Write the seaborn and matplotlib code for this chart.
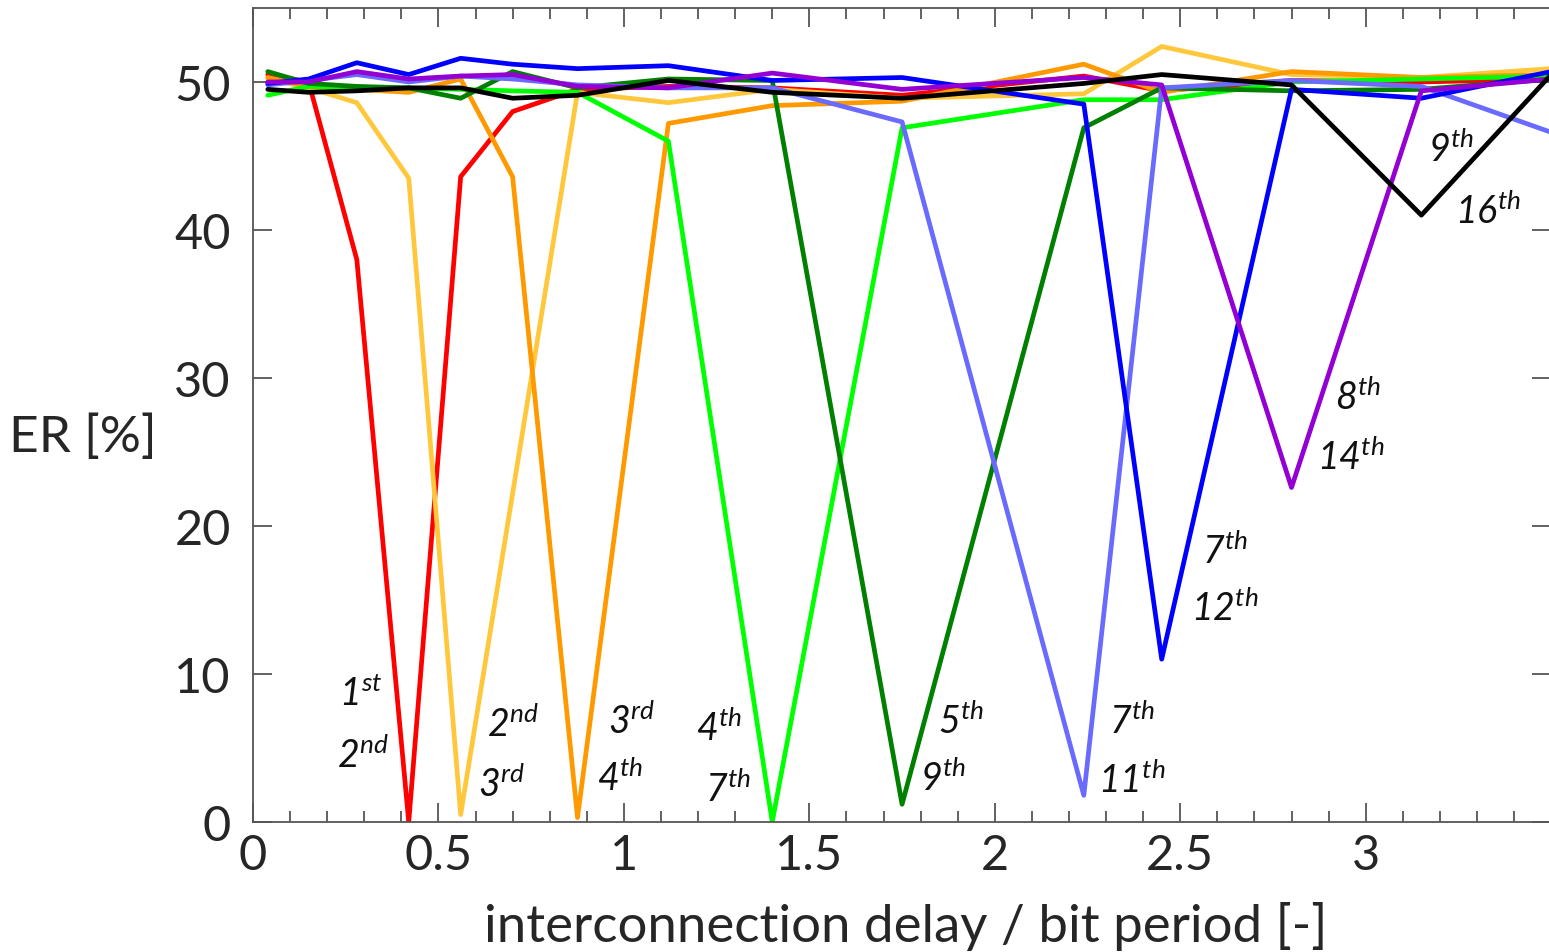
import numpy as np
import pandas as pd
import matplotlib
matplotlib.use("Agg")
import matplotlib.pyplot as plt
from matplotlib.ticker import MultipleLocator
import seaborn as sns

# interconnection delay normalised to the bit period
delay = [0.04, 0.15, 0.28, 0.42, 0.56, 0.70, 0.875, 1.12, 1.40, 1.75, 2.24, 2.45, 2.80, 3.15, 3.50]

# error rate [%] per configuration (None = not measured at that delay)
er_red       = [50.5, 50.0, 38.0,  0.0, 43.6, 48.0, 49.5, 49.7, 49.6, 49.1, 50.4, 49.4, 50.1, 50.0, 50.2]
er_yellow    = [50.2, 49.6, 48.6, 43.5,  0.5, None, 49.3, 48.6, 49.5, 48.9, 49.2, 52.4, 50.5, 50.3, 50.9]
er_orange    = [50.3, 49.7, 49.5, 49.3, 50.2, 43.6,  0.3, 47.2, 48.4, 48.7, 51.2, 49.3, 50.7, 50.3, 50.5]
er_lime      = [49.1, 49.7, 49.6, 49.6, 49.5, 49.4, 49.3, 46.0,  0.0, 46.9, 48.8, 48.8, 50.0, 50.2, 50.4]
er_darkgreen = [50.7, 49.9, 49.7, 49.6, 48.9, 50.7, 49.6, 50.2, 50.1,  1.2, 46.9, 49.6, 49.4, 49.5, 50.2]
er_lightblue = [49.8, 50.1, 50.5, 50.0, 50.4, 50.2, 49.8, 49.6, 49.6, 47.3,  1.8, 49.6, 50.1, 49.7, 46.6]
er_blue      = [49.9, 50.2, 51.3, 50.5, 51.6, 51.2, 50.9, 51.1, 50.1, 50.3, 48.5, 11.0, 49.5, 48.9, 50.7]
er_purple    = [50.0, 50.0, 50.7, 50.2, 50.4, 50.5, 49.7, 49.6, 50.6, 49.5, 50.3, 49.8, 22.6, 49.4, 50.2]
er_black     = [49.5, 49.3, 49.4, 49.6, 49.6, 48.9, 49.1, 50.1, 49.3, 48.9, 49.9, 50.5, 49.8, 41.0, 50.5]

series_names = ["red", "yellow", "orange", "lime", "darkgreen", "lightblue", "blue", "purple", "black"]
series_values = [er_red, er_yellow, er_orange, er_lime, er_darkgreen, er_lightblue, er_blue, er_purple, er_black]
series_colors = ["#ff0000", "#ffc83c", "#ff9900", "#00ff00", "#008000", "#6a6aff", "#0000ff", "#9400d3", "#000000"]

# harmonic labels next to each notch
notch_labels = [("1", "st"), ("2", "nd"), ("2", "nd"), ("3", "rd"), ("3", "rd"), ("4", "th"),
                ("4", "th"), ("7", "th"), ("5", "th"), ("9", "th"), ("7", "th"), ("11", "th"),
                ("7", "th"), ("12", "th"), ("8", "th"), ("14", "th"), ("9", "th"), ("16", "th")]
notch_label_xy = [(0.29, 8.65), (0.295, 4.55), (0.70, 6.65), (0.67, 2.55), (1.02, 6.85), (0.99, 2.95),
                  (1.255, 6.35), (1.28, 2.25), (1.91, 6.85), (1.86, 2.95), (2.37, 6.85), (2.37, 2.85),
                  (2.62, 18.35), (2.62, 14.45), (2.98, 28.75), (2.96, 24.65), (3.23, 45.5), (3.33, 41.3)]

frames = []
for name, vals in zip(series_names, series_values):
    frames.append(pd.DataFrame({"delay": delay, "ER": vals, "series": name}))
df = pd.concat(frames, ignore_index=True).dropna()
df["ER"] = df["ER"].astype(float)

sns.set_style("ticks")
plt.rcParams["font.family"] = ["Lato", "DejaVu Sans"]
plt.rcParams["mathtext.fontset"] = "custom"
plt.rcParams["mathtext.rm"] = "Lato:italic"
plt.rcParams["mathtext.it"] = "Lato:italic"

fig = plt.figure(figsize=(15.49, 9.53), dpi=100)
ax = fig.add_axes([0.1633, 0.1364, 0.8381, 0.8542])

sns.lineplot(data=df, x="delay", y="ER", hue="series", hue_order=series_names,
             palette=dict(zip(series_names, series_colors)), sort=False,
             estimator=None, linewidth=3.4, legend=False, ax=ax)

ax.set_xlim(0, 3.5)
ax.set_ylim(0, 55)
ax.xaxis.set_major_locator(MultipleLocator(0.5))
ax.xaxis.set_minor_locator(MultipleLocator(0.1))
ax.yaxis.set_major_locator(MultipleLocator(10))
ax.set_xticks([0, 0.5, 1, 1.5, 2, 2.5, 3])
ax.set_xticklabels(["0", "0.5", "1", "1.5", "2", "2.5", "3"])

spine_col = "#555555"
for s in ax.spines.values():
    s.set_color(spine_col)
    s.set_linewidth(1.3)
ax.tick_params(which="both", direction="in", top=True, right=True, color=spine_col,
               labelsize=35, width=1.3)
ax.tick_params(axis="y", pad=16)
ax.tick_params(axis="x", pad=8)
ax.tick_params(which="major", length=14)
ax.tick_params(which="minor", length=8)

ax.set_xlabel("interconnection delay / bit period [-]", fontsize=38)
ax.xaxis.set_label_coords(0.503, -0.127)
ax.xaxis.label.set_va("center")
ax.set_ylabel("ER [%]", fontsize=37, rotation=0)
ax.yaxis.set_label_coords(-0.131, 0.473)
ax.yaxis.label.set_va("center")
ax.yaxis.label.set_ha("center")

for (num, suf), (tx, ty) in zip(notch_labels, notch_label_xy):
    ax.text(tx, ty, rf"${num}^{{{suf}}}$", fontsize=27,
            ha="center", va="center", color="#111111")

fig.savefig("out.png", dpi=100)
